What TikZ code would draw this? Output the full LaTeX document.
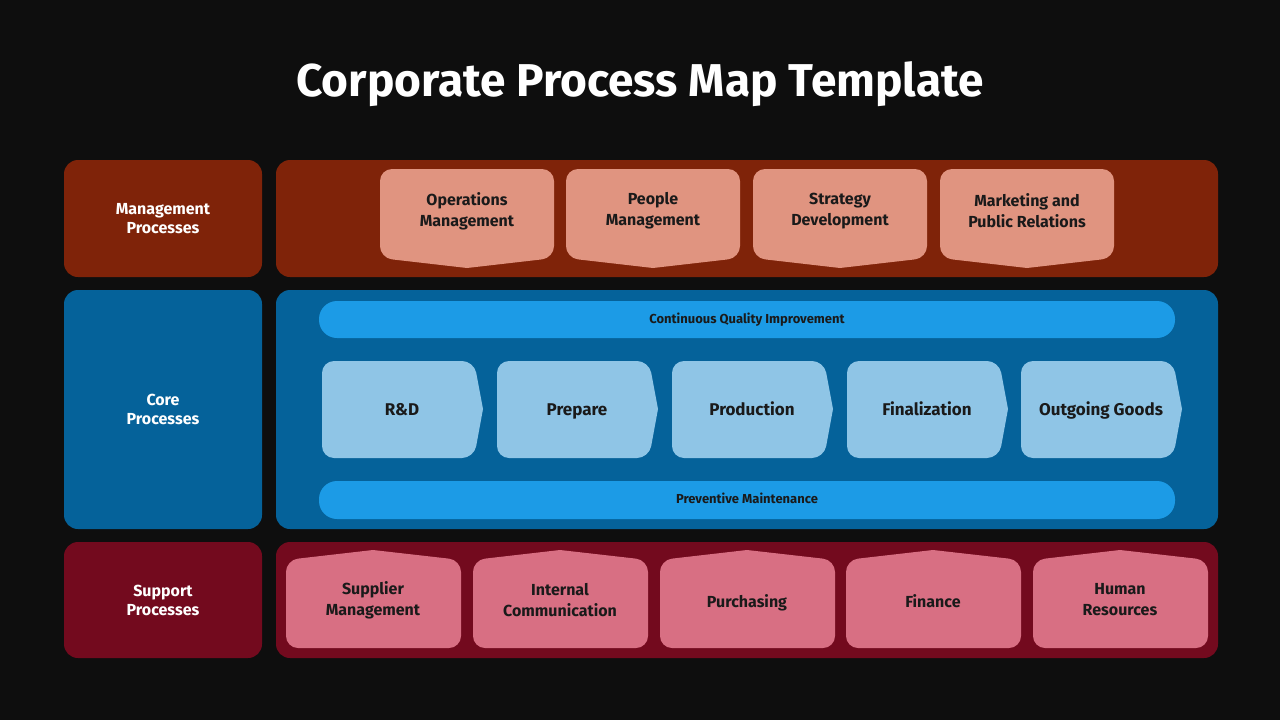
\documentclass[tikz,border=0pt]{standalone}
\usepackage{fontspec}
\setmainfont{Fira Sans}
\definecolor{bgcol}{HTML}{0E0E0E}
\definecolor{mgmtdark}{HTML}{7F2309}
\definecolor{mgmtlight}{HTML}{E09480}
\definecolor{coredark}{HTML}{05629A}
\definecolor{coremid}{HTML}{1C9BE6}
\definecolor{corelight}{HTML}{8FC5E6}
\definecolor{suppdark}{HTML}{730A1E}
\definecolor{supplight}{HTML}{D86F83}
\definecolor{inktext}{HTML}{1A1A1A}
\tikzset{
  panel/.style={rounded corners=14pt},
  rowlabel/.style={text=white, font=\bfseries\fontsize{16}{19}\selectfont, align=center},
  boxtext/.style={text=inktext, font=\bfseries\fontsize{16}{21}\selectfont, align=center},
  bartext/.style={text=inktext, font=\bfseries\fontsize{13}{15}\selectfont, anchor=base},
}
\begin{document}
\begin{tikzpicture}[x=1pt, y=-1pt]
  \fill[bgcol] (0,0) rectangle (1280,720);
  \useasboundingbox (0,0) rectangle (1280,720);
  \node[text=white, font=\bfseries\fontsize{46}{54}\selectfont] (title) at (640,84) {Corporate Process Map Template};

  % row panels
  \fill[mgmtdark, panel] (64,160) rectangle (262,277);
  \fill[mgmtdark, panel] (276,160) rectangle (1218,277);
  \fill[coredark, panel] (64,290) rectangle (262,529);
  \fill[coredark, panel] (276,290) rectangle (1218,529);
  \fill[suppdark, panel] (64,542) rectangle (262,658);
  \fill[suppdark, panel] (276,542) rectangle (1218,658);
  \node[rowlabel] (mgmt) at (163,219) {Management\\Processes};
  \node[rowlabel] (core) at (163,409) {Core\\Processes};
  \node[rowlabel] (supp) at (163,600) {Support\\Processes};

  % management boxes
  \foreach \x/\name/\txt in {380/ops/Operations\\Management, 566/people/People\\Management,
      753/strategy/Strategy\\Development, 940/marketing/Marketing and\\Public Relations}{
    \fill[mgmtlight, rounded corners=12pt] (\x,169) -- (\x+174,169) -- (\x+174,258)
      [sharp corners] -- (\x+87,268) [rounded corners=12pt] -- (\x,258) -- cycle;
    \node[boxtext] (\name) at (\x+87,211) {\txt};
  }

  % core bars
  \fill[coremid, rounded corners=18pt] (319,301) rectangle (1175,338);
  \node[bartext] (quality) at (747,323.5) {Continuous Quality Improvement};
  \fill[coremid, rounded corners=18pt] (319,481) rectangle (1175,519);
  \node[bartext] (maint) at (747,503.5) {Preventive Maintenance};

  % core chevrons
  \foreach \x/\name/\txt in {322/rnd/R\&D, 497/prepare/Prepare, 672/production/Production,
      847/final/Finalization, 1021/goods/Outgoing Goods}{
    \fill[corelight, rounded corners=12pt] (\x,361) -- (\x+152,361) [sharp corners] -- (\x+161,409)
      [rounded corners=12pt] -- (\x+152,458) -- (\x,458) -- cycle;
    \node[boxtext, anchor=base, font=\bfseries\fontsize{17}{20}\selectfont] (\name) at (\x+80,415) {\txt};
  }

  % support boxes
  \foreach \x in {286, 473, 660, 846, 1033}{
    \fill[supplight, rounded corners=12pt] (\x,648) -- (\x,560) [sharp corners] -- (\x+87,550)
      [rounded corners=12pt] -- (\x+175,560) -- (\x+175,648) -- cycle;
  }
  \node[boxtext] (supplier) at (373,600) {Supplier\\Management};
  \node[boxtext] (internal) at (560,600) {Internal\\Communication};
  \node[boxtext, anchor=base] (purchasing) at (747,607) {Purchasing};
  \node[boxtext, anchor=base] (finance) at (933,607) {Finance};
  \node[boxtext] (hr) at (1120,600) {Human\\Resources};
\end{tikzpicture}
\end{document}
